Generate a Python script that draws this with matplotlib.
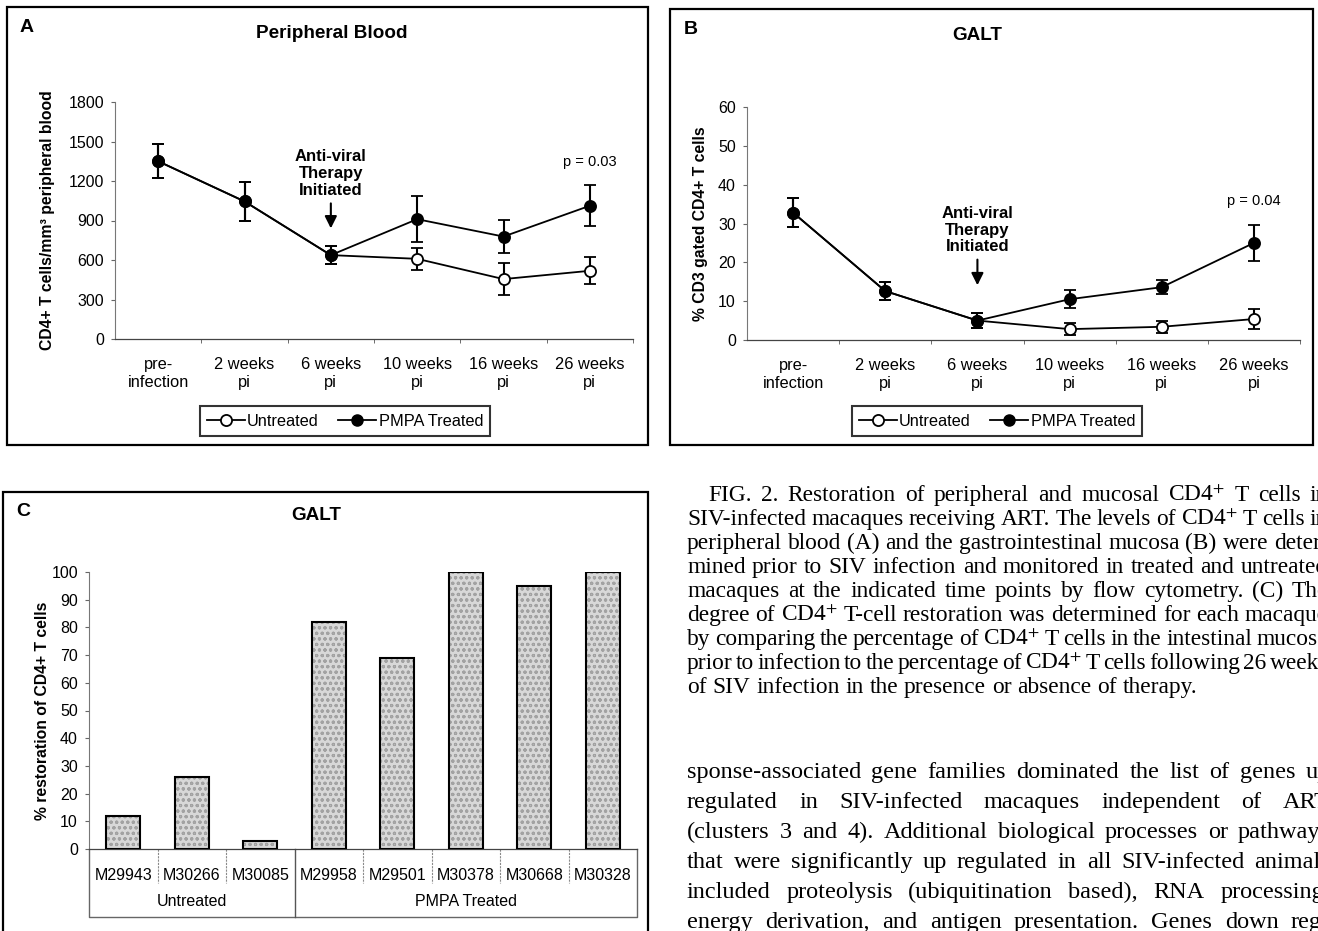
import matplotlib
matplotlib.use("Agg")
import numpy as np
import matplotlib.pyplot as plt
from matplotlib.patches import Rectangle
from matplotlib.lines import Line2D

plt.rcParams['font.family'] = ['Liberation Sans', 'DejaVu Sans']
plt.rcParams['mathtext.fontset'] = 'stix'
plt.rcParams['hatch.linewidth'] = 0.8

# ---- data -------------------------------------------------------------
timepoints = ["pre-\ninfection", "2 weeks\npi", "6 weeks\npi",
              "10 weeks\npi", "16 weeks\npi", "26 weeks\npi"]

# panel A: CD4+ T cells / mm3 peripheral blood
pb_untreated = [1350, 1045, 637, 609, 455, 518]
pb_untreated_err = [128, 151, 67, 85, 120, 104]
pb_treated = [1350, 1045, 637, 910, 778, 1012]
pb_treated_err = [128, 151, 67, 175, 123, 155]

# panel B: % CD3 gated CD4+ T cells (GALT)
galt_untreated = [32.8, 12.6, 5.0, 2.8, 3.4, 5.4]
galt_untreated_err = [3.7, 2.4, 2.0, 1.6, 1.6, 2.5]
galt_treated = [32.8, 12.6, 5.0, 10.5, 13.6, 25.0]
galt_treated_err = [3.7, 2.4, 2.0, 2.3, 1.8, 4.6]

# panel C: % restoration per animal
animals = ["M29943", "M30266", "M30085", "M29958", "M29501",
           "M30378", "M30668", "M30328"]
restoration = [12, 26, 3, 82, 69, 100, 95, 100]
groups = ["Untreated", "PMPA Treated"]
group_sizes = [3, 5]

caption = [
    "FIG. 2. Restoration of peripheral and mucosal CD4$^{+}$ T cells in",
    "SIV-infected macaques receiving ART. The levels of CD4$^{+}$ T cells in",
    "peripheral blood (A) and the gastrointestinal mucosa (B) were deter-",
    "mined prior to SIV infection and monitored in treated and untreated",
    "macaques at the indicated time points by flow cytometry. (C) The",
    "degree of CD4$^{+}$ T-cell restoration was determined for each macaque",
    "by comparing the percentage of CD4$^{+}$ T cells in the intestinal mucosa",
    "prior to infection to the percentage of CD4$^{+}$ T cells following 26 weeks",
    "of SIV infection in the presence or absence of therapy.",
]
body = [
    "sponse-associated gene families dominated the list of genes up",
    "regulated in SIV-infected macaques independent of ART",
    "(clusters 3 and 4). Additional biological processes or pathways",
    "that were significantly up regulated in all SIV-infected animals",
    "included proteolysis (ubiquitination based), RNA processing,",
    "energy derivation, and antigen presentation. Genes down reg-",
]

# ---- figure -----------------------------------------------------------
W, H = 1318, 931
fig = plt.figure(figsize=(W / 100, H / 100), dpi=100)


def fx(px):
    return px / W


def fy(py):
    return 1 - py / H


def add_axes(l, t, r, b):
    return fig.add_axes([fx(l), fy(b), (r - l) / W, (b - t) / H])


# panel frames
for (l, t, r, b) in [(7, 7, 648, 445), (670, 9, 1313, 445), (3, 492, 648, 960)]:
    fig.patches.append(Rectangle((fx(l), fy(b)), (r - l) / W, (b - t) / H,
                                 transform=fig.transFigure, fill=False,
                                 ec='black', lw=1.6))


def style_axes(ax):
    for s in ['top', 'right']:
        ax.spines[s].set_visible(False)
    ax.spines['left'].set_color('#777777')
    ax.spines['left'].set_linewidth(0.8)
    ax.spines['bottom'].set_color('#444444')
    ax.spines['bottom'].set_linewidth(0.9)
    ax.tick_params(axis='y', length=3, color='#666666', labelsize=11.5, pad=5)


def line_panel(ax, untreated, u_err, treated, t_err, ymax, ystep, ptext, ann_y, arrow):
    x = np.arange(len(timepoints))
    ax.errorbar(x, untreated, yerr=u_err, color='black', lw=1.3, marker='o', ms=8,
                mfc='white', mec='black', mew=1.3, capsize=4, capthick=1.5,
                elinewidth=1.5, zorder=3)
    ax.errorbar(x, treated, yerr=t_err, color='black', lw=1.3, marker='o', ms=8,
                mfc='black', mec='black', mew=1.3, capsize=4, capthick=1.5,
                elinewidth=1.5, zorder=4)
    ax.set_xlim(-0.5, 5.5)
    ax.set_ylim(0, ymax)
    ax.set_yticks(np.arange(0, ymax + 1, ystep))
    ax.set_xticks(x, timepoints)
    ax.set_xticks(np.arange(0.5, 6, 1), minor=True)
    ax.tick_params(axis='x', which='major', length=0, pad=13, labelsize=11.8)
    ax.tick_params(axis='x', which='minor', length=3, color='#555555')
    for lab in ax.get_xticklabels():
        lab.set_linespacing(1.25)
    style_axes(ax)
    ax.text(2, ann_y, "Anti-viral\nTherapy\nInitiated", ha='center', va='center',
            fontweight='bold', fontsize=12, linespacing=1.15)
    ax.annotate('', xy=(2, arrow[1]), xytext=(2, arrow[0]),
                arrowprops=dict(arrowstyle='-|>', color='black', lw=1.5,
                                mutation_scale=18, shrinkA=0, shrinkB=0))
    ax.text(5, ptext[1], ptext[0], ha='center', va='center', fontsize=10.5)


def legend_at(cx, cy):
    handles = [Line2D([], [], color='black', lw=1.3, marker='o', ms=8, mfc='white', mec='black', mew=1.3),
               Line2D([], [], color='black', lw=1.3, marker='o', ms=8, mfc='black', mec='black')]
    leg = fig.legend(handles, ['Untreated', 'PMPA Treated'], loc='center',
                     bbox_to_anchor=(fx(cx), fy(cy)), ncol=2, fontsize=11.8,
                     frameon=True, fancybox=False, edgecolor='black',
                     handlelength=2.3, handletextpad=0.15, columnspacing=1.2,
                     borderpad=0.45)
    leg.get_frame().set_linewidth(1.5)


# ---- panel A ------------------------------------------------------------
axa = add_axes(115, 102, 633, 339)
line_panel(axa, pb_untreated, pb_untreated_err, pb_treated, pb_treated_err,
           1800, 300, ("p = 0.03", 1344), 1255, (1030, 840))
axa.set_ylabel("CD4+ T cells/mm³ peripheral blood", fontweight='bold', fontsize=11.3)
axa.yaxis.set_label_coords(-0.116, 0.5)
fig.text(fx(27), fy(28), "A", fontsize=14, fontweight='bold', ha='center', va='center')
fig.text(fx(332), fy(33), "Peripheral Blood", fontsize=13.6, fontweight='bold', ha='center', va='center')
legend_at(345, 421)

# ---- panel B ------------------------------------------------------------
axb = add_axes(747, 107, 1300, 340)
line_panel(axb, galt_untreated, galt_untreated_err, galt_treated, galt_treated_err,
           60, 10, ("p = 0.04", 35.8), 28.3, (20.7, 14.1))
axb.set_ylabel("% CD3 gated CD4+ T cells", fontweight='bold', fontsize=11.3)
axb.yaxis.set_label_coords(-0.070, 0.5)
fig.text(fx(691), fy(29), "B", fontsize=14, fontweight='bold', ha='center', va='center')
fig.text(fx(977), fy(36), "GALT", fontsize=13.6, fontweight='bold', ha='center', va='center')
legend_at(997, 421)

# ---- panel C ------------------------------------------------------------
axc = add_axes(89, 572, 637, 849)
xc = np.arange(len(animals))
axc.bar(xc, restoration, width=0.5, color='#d8d8d8', edgecolor='#a2a2a2',
        hatch='ooo', linewidth=0, zorder=2)
axc.bar(xc, restoration, width=0.5, facecolor='none', edgecolor='black',
        linewidth=1.5, zorder=3)
axc.set_xlim(-0.5, len(animals) - 0.5)
axc.set_ylim(0, 100)
axc.set_yticks(np.arange(0, 101, 10))
axc.set_xticks([])
style_axes(axc)
axc.set_ylabel("% restoration of CD4+ T cells", fontweight='bold', fontsize=11.3)
axc.yaxis.set_label_coords(-0.071, 0.5)

# data table under the bars
tr = axc.get_xaxis_transform()
row1, bottom = -0.123, -0.245
axc.plot([-0.5, -0.5, len(animals) - 0.5, len(animals) - 0.5], [0, bottom, bottom, 0],
         transform=tr, clip_on=False, color='#666666', lw=1)
start = 0
for gi, (g, n) in enumerate(zip(groups, group_sizes)):
    axc.text(start + (n - 1) / 2, -0.191, g, transform=tr, ha='center', va='center', fontsize=11.5)
    if gi > 0:
        axc.plot([start - 0.5, start - 0.5], [0, bottom], transform=tr,
                 clip_on=False, color='#555555', lw=1)
    start += n
for i, name in enumerate(animals):
    axc.text(i, -0.094, name, transform=tr, ha='center', va='center', fontsize=11.5)
    if i > 0 and i != group_sizes[0]:
        axc.plot([i - 0.5, i - 0.5], [0, row1], transform=tr, clip_on=False,
                 color='#8a8a8a', lw=0.8, ls=(0, (2, 1)))

fig.text(fx(23), fy(512), "C", fontsize=14, fontweight='bold', ha='center', va='center')
fig.text(fx(316), fy(515), "GALT", fontsize=13.6, fontweight='bold', ha='center', va='center')

# ---- justified caption and body text -----------------------------------
renderer = fig.canvas.get_renderer()


def justify(lines, left, right, y0, step, size, indent=0, last_free=True):
    for i, line in enumerate(lines):
        words = line.split(' ')
        x0 = left + (indent if i == 0 else 0)
        y = fy(y0 + i * step)
        texts = [fig.text(0, y, w, fontsize=size, family='Liberation Serif',
                          va='baseline', ha='left') for w in words]
        widths = [t.get_window_extent(renderer).width for t in texts]
        natural = 0.25 * size * 100 / 72
        if last_free and i == len(lines) - 1:
            gap = natural
        else:
            gap = max((right - x0 - sum(widths)) / (len(words) - 1), natural * 0.5)
        xpos = x0
        for t, w in zip(texts, widths):
            t.set_x(fx(xpos))
            xpos += w + gap


justify(caption, 687, 1328, 501, 24, 16.8, indent=21)
# the body paragraph continues past the visible lines, so every line is justified
justify(body, 687, 1330, 778, 30, 17.5, last_free=False)

fig.savefig("out.png", dpi=100)
